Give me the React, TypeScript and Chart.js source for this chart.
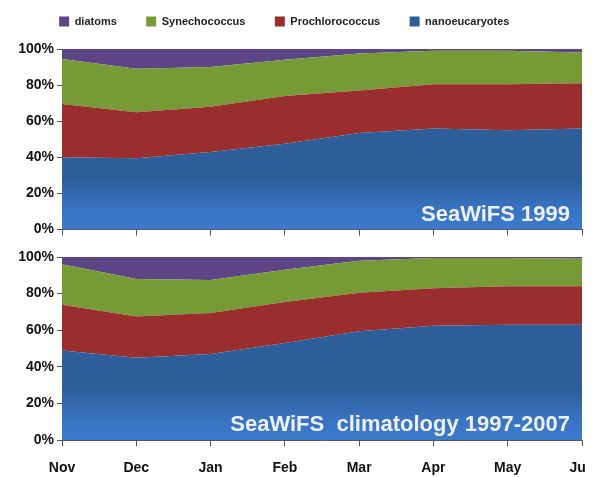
import React, { useEffect, useRef } from 'react';
import { Chart, registerables } from 'chart.js';

Chart.register(...registerables);

const months = ['Nov', 'Dec', 'Jan', 'Feb', 'Mar', 'Apr', 'May', 'Jun'];
const seriesNames = ['nanoeucaryotes', 'Prochlorococcus', 'Synechococcus', 'diatoms'];

const nano1999 = [40, 39.5, 43, 47.5, 53.5, 56, 55, 56];
const pro1999 = [29.5, 25.5, 25, 26.5, 23.5, 24.5, 25.5, 25];
const syn1999 = [25, 24, 22, 20, 20.5, 18.5, 18.5, 17];
const dia1999 = [5.5, 11, 10, 6, 2.5, 1, 1, 2];

const nanoClim = [49, 45, 47, 53, 59.5, 62.5, 63, 63];
const proClim = [25, 22.5, 22.5, 22.5, 21, 20.5, 21, 21];
const synClim = [22, 20.5, 18, 17.5, 17.5, 16.5, 15.5, 15];
const diaClim = [4, 12, 12.5, 7, 2, 0.5, 0.5, 1];

const colors = ['#2D5E9A', '#9A2E2E', '#769A36', '#5E4585'];

function blueFill(ctx: any) {
    const area = ctx.chart.chartArea;
    if (!area) return colors[0];
    const g = ctx.chart.ctx.createLinearGradient(0, area.top, 0, area.bottom);
    g.addColorStop(0, '#2D5E9A');
    g.addColorStop(0.72, '#2D5E9A');
    g.addColorStop(0.88, '#3873C0');
    g.addColorStop(1, '#3B7BCD');
    return g;
}

const labelPlugin = {
    id: 'cornerLabel',
    afterDatasetsDraw(chart: any, _args: any, opts: any) {
        const { ctx, chartArea } = chart;
        ctx.save();
        ctx.font = 'bold 22px "Liberation Sans", Arial, sans-serif';
        ctx.fillStyle = '#EEF0F5';
        ctx.textAlign = 'right';
        ctx.textBaseline = 'alphabetic';
        ctx.fillText(opts.text, chartArea.right - 12, chartArea.bottom - 9);
        ctx.restore();
    },
};

// extra space under the legend
const legendGap = {
    id: 'legendGap',
    beforeInit(chart: any) {
        if (!chart.legend) return;
        const fit = chart.legend.fit;
        chart.legend.fit = function () {
            fit.bind(chart.legend)();
            this.height += 12;
        };
    },
};

interface PanelProps {
    series: number[][];
    label: string;
    showLegend: boolean;
    showX: boolean;
    height: number;
}

function Panel({ series, label, showLegend, showX, height }: PanelProps) {
    const chartRef = useRef<HTMLCanvasElement | null>(null);
    const chartInstance = useRef<Chart | null>(null);

    useEffect(() => {
        if (!chartRef.current) return;
        const tickFont = { family: '"Liberation Sans", Arial, sans-serif', weight: 'bold' as const, size: 14 };
        chartInstance.current = new Chart(chartRef.current, {
            type: 'line',
            data: {
                labels: months,
                datasets: series.map((d, i) => ({
                    label: seriesNames[i],
                    data: d,
                    fill: i === 0 ? 'origin' : '-1',
                    backgroundColor: i === 0 ? blueFill : colors[i],
                    borderColor: 'rgba(0,0,0,0)',
                    borderWidth: 0,
                    pointRadius: 0,
                    tension: 0,
                })),
            },
            plugins: showLegend ? [labelPlugin, legendGap] : [labelPlugin],
            options: {
                animation: false,
                responsive: true,
                maintainAspectRatio: false,
                layout: { padding: { right: 3, top: showLegend ? 0 : 16, bottom: 0 } },
                plugins: {
                    tooltip: { enabled: false },
                    legend: {
                        display: showLegend,
                        reverse: true,
                        labels: {
                            boxWidth: 10,
                            boxHeight: 10,
                            padding: 8,
                            color: '#222',
                            font: { family: '"Liberation Sans", Arial, sans-serif', weight: 'bold', size: 11 },
                            generateLabels: (chart: any) => {
                                const items = Chart.defaults.plugins.legend.labels.generateLabels(chart);
                                return items.map((it: any) => ({ ...it, text: it.text + '       ' }));
                            },
                        },
                    },
                    cornerLabel: { text: label },
                } as any,
                scales: {
                    x: {
                        offset: false,
                        grid: { display: true, drawOnChartArea: false, tickLength: 6, color: '#555' },
                        border: { color: '#555' },
                        ticks: { display: showX, color: '#111', font: tickFont, padding: 14, maxRotation: 0 },
                        afterFit: (s: any) => { s.paddingRight = 0; s.paddingLeft = 0; },
                    },
                    y: {
                        stacked: true,
                        min: 0,
                        max: 100,
                        grid: { display: true, drawOnChartArea: false, tickLength: 5, color: '#555' },
                        border: { color: '#555' },
                        ticks: { stepSize: 20, color: '#111', font: tickFont, callback: (v: any) => v + '%' },
                        afterFit: (s: any) => { s.width = 54; },
                    },
                },
            },
        });
        return () => {
            chartInstance.current?.destroy();
        };
    }, [series, label, showLegend, showX]);

    return (
        <div style={{ position: 'relative', height }}>
            <canvas ref={chartRef} />
        </div>
    );
}

export default function App() {
    return (
        <div style={{ width: 577, height: 469, overflow: 'hidden' }}>
            <Panel series={[nano1999, pro1999, syn1999, dia1999]} label="SeaWiFS 1999" showLegend showX={false} height={233} />
            <Panel series={[nanoClim, proClim, synClim, diaClim]} label="SeaWiFS  climatology 1997-2007" showLegend={false} showX height={250} />
        </div>
    );
}
